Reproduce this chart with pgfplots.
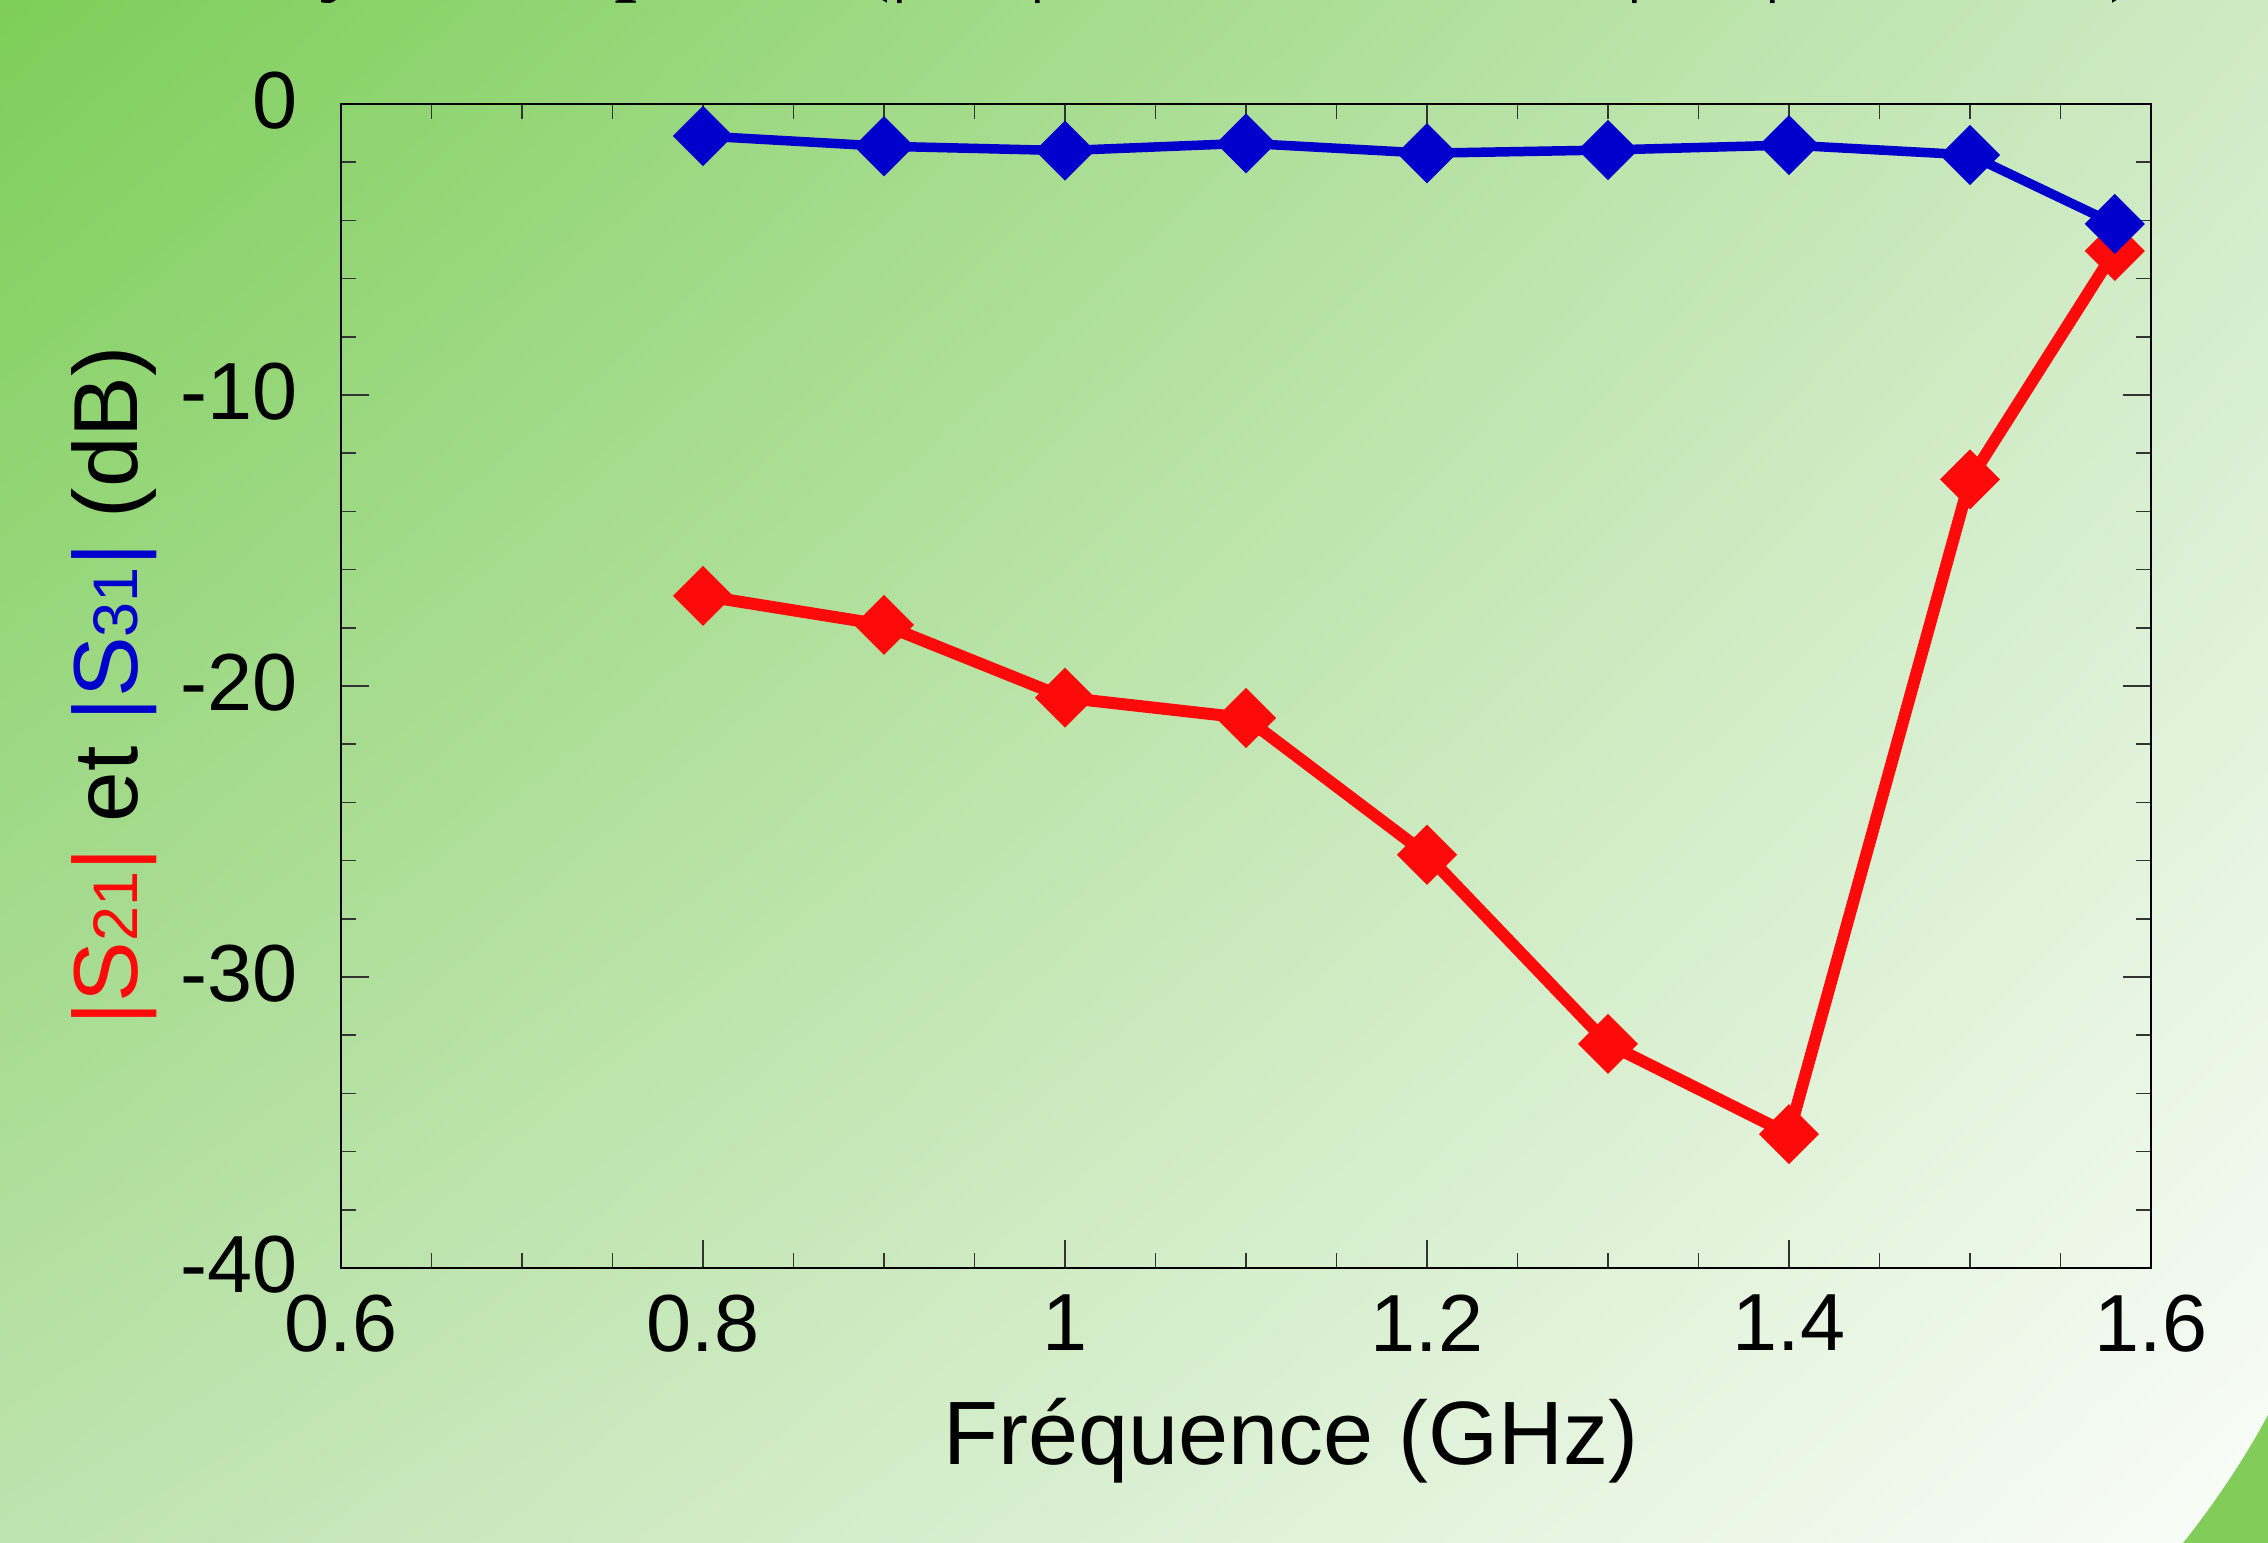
\documentclass[border=0pt]{standalone}
\usepackage{fontspec}
\setmainfont{Liberation Sans}
\newfontfamily\seriffont{Liberation Serif}
\usepackage{pgfplots}
\pgfplotsset{compat=1.18}
\usetikzlibrary{shadings}
\definecolor{bgTL}{RGB}{125,206,88}
\definecolor{bgTR}{RGB}{206,234,196}
\definecolor{bgBL}{RGB}{190,227,175}
\definecolor{bgBR}{RGB}{250,253,249}
\definecolor{cornergreen}{RGB}{130,205,90}
\definecolor{sred}{RGB}{255,10,10}
\definecolor{sblue}{RGB}{0,0,205}
\newcommand\sd[1]{{\fontsize{12.6}{14}\selectfont #1}}
\begin{document}
\begin{tikzpicture}[x=1pt,y=1pt]
\useasboundingbox (0,0) rectangle (453.6,308.6);
\begin{scope}
\clip (0,0) rectangle (453.6,308.6);
\shade[upper left=bgTL, upper right=bgTR, lower left=bgBL, lower right=bgBR] (0,0) rectangle (453.6,308.6);
\fill[cornergreen] (453.6,25.6) .. controls (449,17) and (443,8) .. (436.6,0) -- (460,-5) -- (460,25.6) -- cycle;
\node[anchor=base west, inner sep=0pt, font=\seriffont\fontsize{18.6}{20}\selectfont] at (27.6,311.8) {Analyse des pertes (|S\textsubscript{21}| en fonction de |S\textsubscript{31}| mesurés)};
\end{scope}
\begin{axis}[
  at={(68.2pt,55pt)}, anchor=south west,
  scale only axis, width=362pt, height=232.8pt,
  xmin=0.6, xmax=1.6, ymin=-40, ymax=0,
  xtick={0.6,0.8,1,1.2,1.4,1.6},
  ytick={-40,-30,-20,-10,0},
  minor x tick num=3, minor y tick num=4,
  tick align=inside, tick pos=both,
  major tick length=5.6pt, minor tick length=3pt,
  every tick/.append style={black!80, line width=0.3pt},
  axis line style={line width=0.45pt, black},
  /pgf/number format/assume math mode=true,
  tick label style={font=\fontsize{16.2}{18}\selectfont},
  xticklabel style={anchor=north, inner sep=0pt, yshift=-5.2pt},
  yticklabel style={anchor=east, inner sep=0pt, xshift=-8.4pt, yshift=0.6pt},
  xlabel={Fréquence (GHz)},
  xlabel style={at={(axis description cs:0.5249,-0.1684)}, anchor=base, inner sep=0pt, font=\fontsize{18}{20}\selectfont},
  ylabel={\textcolor{sred}{|S\sd{21}|} et \textcolor{sblue}{|S\sd{31}|} (dB)},
  ylabel style={at={(axis description cs:-0.1122,0.5)}, anchor=base, inner sep=0pt, font=\fontsize{18.2}{20}\selectfont},
  clip=false,
]
\addplot[color=sred, line width=2.4pt, mark=square*, mark size=4.1pt, mark options={rotate=45, solid, line width=0.3pt}]
coordinates {(0.8,-16.9) (0.9,-17.9) (1.0,-20.4) (1.1,-21.1) (1.2,-25.8) (1.3,-32.3) (1.4,-35.4) (1.5,-12.9) (1.58,-5.05)};
\addplot[color=sblue, line width=1.9pt, mark=square*, mark size=4.1pt, mark options={rotate=45, solid, line width=0.3pt}]
coordinates {(0.8,-1.1) (0.9,-1.45) (1.0,-1.6) (1.1,-1.35) (1.2,-1.69) (1.3,-1.58) (1.4,-1.41) (1.5,-1.75) (1.58,-4.12)};
\end{axis}
\end{tikzpicture}
\end{document}
